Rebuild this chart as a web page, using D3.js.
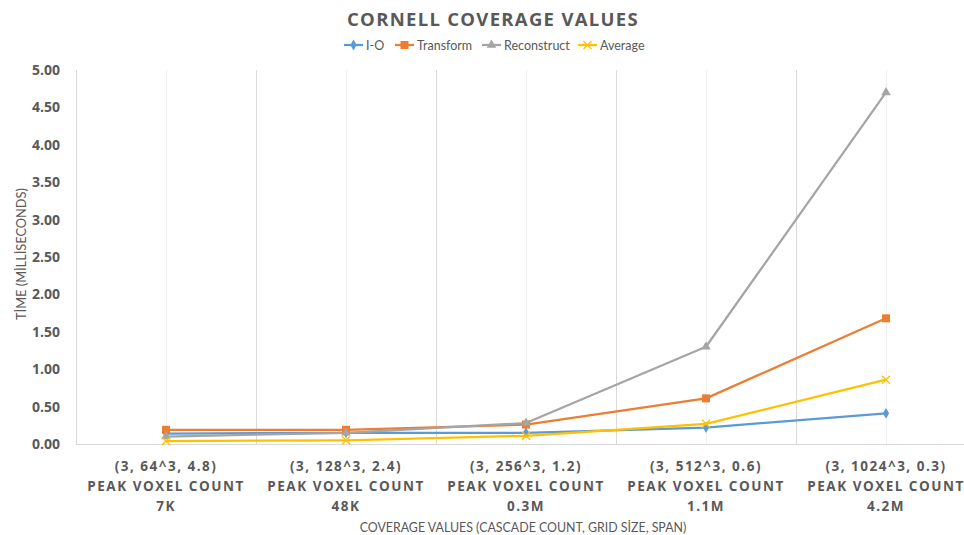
<!DOCTYPE html>
<html><head><meta charset="utf-8">
<script src="https://cdn.jsdelivr.net/npm/d3@7"></script>
<style>body{margin:0;background:#fff}svg{display:block}</style>
</head><body>
<svg id="c" width="964" height="535"></svg>
<script>
const categories = ["(3, 64^3, 4.8)|PEAK VOXEL COUNT|7K","(3, 128^3, 2.4)|PEAK VOXEL COUNT|48K","(3, 256^3, 1.2)|PEAK VOXEL COUNT|0.3M","(3, 512^3, 0.6)|PEAK VOXEL COUNT|1.1M","(3, 1024^3, 0.3)|PEAK VOXEL COUNT|4.2M"];
const seriesNames = ["I-O","Transform","Reconstruct","Average"];
const ioValues = [0.14, 0.15, 0.15, 0.22, 0.41];
const transformValues = [0.19, 0.19, 0.26, 0.61, 1.68];
const reconstructValues = [0.10, 0.15, 0.28, 1.30, 4.70];
const averageValues = [0.04, 0.05, 0.11, 0.27, 0.86];
const yTicks = [0,0.5,1,1.5,2,2.5,3,3.5,4,4.5,5];
const colors = ["#5B9BD5","#ED7D31","#A5A5A5","#FFC000"];
const markers = ["diamond","square","triangle","x"];
const allSeries = [ioValues, transformValues, reconstructValues, averageValues];

const svg = d3.select("#c");
const FONT = "'Open Sans', sans-serif";
const FONT2 = "Lato, 'Open Sans', sans-serif";
const pLeft = 76, pRight = 976, pTop = 70, pBottom = 444;
const x = d3.scaleBand().domain(categories).range([pLeft, pRight]).padding(0);
const y = d3.scaleLinear().domain([0,5]).range([pBottom, pTop]);
const cx = c => x(c) + x.bandwidth()/2;

// minor gridlines at category centers
svg.append("g").selectAll("line").data(categories).join("line")
  .attr("x1", d => cx(d) + 0.5).attr("x2", d => cx(d) + 0.5).attr("y1", pTop).attr("y2", pBottom)
  .attr("stroke", "#f0f0f0").attr("stroke-width", 1);
// major gridlines at boundaries
const bounds = categories.map(c => x(c));
svg.append("g").selectAll("line").data(bounds).join("line")
  .attr("x1", d => d + 0.5).attr("x2", d => d + 0.5).attr("y1", pTop).attr("y2", pBottom)
  .attr("stroke", "#d9d9d9").attr("stroke-width", 1);
// baseline
svg.append("line").attr("x1", pLeft).attr("x2", pRight).attr("y1", pBottom+0.5).attr("y2", pBottom+0.5)
  .attr("stroke", "#d9d9d9");

// y axis
const ya = svg.append("g").attr("transform", `translate(${pLeft},0)`)
  .call(d3.axisLeft(y).tickValues(yTicks).tickFormat(d3.format(".2f")).tickSize(0).tickPadding(16));
ya.select(".domain").remove();
ya.selectAll("text").attr("font-family", FONT).attr("font-size", 14).attr("font-weight", "bold").attr("fill", "#595959");

// x axis
const xa = svg.append("g").attr("transform", `translate(0,${pBottom})`)
  .call(d3.axisBottom(x).tickSize(0).tickFormat(""));
xa.select(".domain").remove();
xa.selectAll(".tick").each(function(d){
  const t = d3.select(this).append("text").attr("text-anchor","middle")
    .attr("font-family", FONT).attr("font-size", 13.5).attr("font-weight","bold")
    .attr("fill","#595959").attr("letter-spacing", "1.5px");
  d.split("|").forEach((s,i) => t.append("tspan").attr("x", 0).attr("y", 27 + i*20).text(s));
});

// lines
const line = d3.line().x((d,i) => cx(categories[i])).y(d => y(d));
allSeries.forEach((vals, si) => {
  svg.append("path").datum(vals).attr("d", line).attr("fill","none")
    .attr("stroke", colors[si]).attr("stroke-width", 2.25).attr("stroke-linejoin","round");
});
function drawMarker(g, type, color, px, py){
  if (type === "diamond") g.append("path").attr("d", d3.symbol(d3.symbolDiamond, 34)()).attr("transform",`translate(${px},${py})`).attr("fill", color);
  else if (type === "square") g.append("rect").attr("x", px-4).attr("y", py-4).attr("width", 8).attr("height", 8).attr("fill", color);
  else if (type === "triangle") g.append("path").attr("d", d3.symbol(d3.symbolTriangle, 40)()).attr("transform",`translate(${px},${py})`).attr("fill", color);
  else if (type === "x") g.append("path").attr("d", `M${px-4},${py-4}L${px+4},${py+4}M${px-4},${py+4}L${px+4},${py-4}`).attr("stroke", color).attr("stroke-width", 1.3);
}
allSeries.forEach((vals, si) => {
  const g = svg.append("g");
  vals.forEach((v,i) => drawMarker(g, markers[si], colors[si], cx(categories[i]), y(v)));
});

// title
svg.append("text").attr("x", 493).attr("y", 26).attr("text-anchor","middle")
  .attr("font-family", FONT).attr("font-size", 18.5).attr("font-weight","bold").attr("fill","#595959")
  .attr("letter-spacing","1.3px").text("CORNELL COVERAGE VALUES");

// legend
const legendX = [344, 395, 482, 578];
seriesNames.forEach((n, i) => {
  const g = svg.append("g");
  const lx = legendX[i], ly = 45;
  g.append("line").attr("x1", lx).attr("x2", lx+19).attr("y1", ly).attr("y2", ly).attr("stroke", colors[i]).attr("stroke-width", 2.25);
  drawMarker(g, markers[i], colors[i], lx+9.5, ly);
  g.append("text").attr("x", lx+22).attr("y", ly+4.5).attr("font-family", FONT2).attr("font-size", 12.5)
    .attr("fill","#595959").text(n);
});

// axis titles
svg.append("text").attr("transform","translate(26,254) rotate(-90)").attr("text-anchor","middle")
  .attr("font-family", FONT2).attr("font-size", 12.8).attr("fill","#595959").text("TİME (MİLLİSECONDS)");
svg.append("text").attr("x", 523).attr("y", 532).attr("text-anchor","middle")
  .attr("font-family", FONT2).attr("font-size", 12.4).attr("fill","#595959").text("COVERAGE VALUES (CASCADE COUNT, GRID SİZE, SPAN)");
</script>
</body></html>
